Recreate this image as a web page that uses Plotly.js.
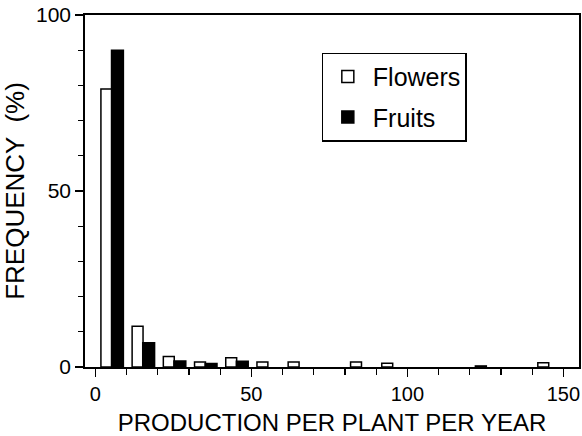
<!DOCTYPE html>
<html>
<head>
<meta charset="utf-8">
<script src="https://cdn.plot.ly/plotly-3.0.1.min.js"></script>
<style>html,body{margin:0;padding:0;background:#fff;}#chart{width:582px;height:436px;}</style>
</head>
<body>
<div id="chart"></div>
<script>
// Bin start of each production class (width 10)
var binStart = [0, 10, 20, 30, 40, 50, 60, 70, 80, 90, 100, 110, 120, 130, 140];
var flowers  = [79, 11.6, 3.0, 1.4, 2.6, 1.4, 1.4, 0, 1.4, 1.1, 0, 0, 0.3, 0, 1.2];
var fruits   = [90, 6.9, 1.7, 1.0, 1.6, 0, 0, 0, 0, 0, 0, 0, 0, 0, 0];
var xTicks = [0, 50, 100, 150];
var yTicks = [0, 50, 100];

var FONT = 'Liberation Sans, Arial, Helvetica, sans-serif';
function lw(arr) { return arr.map(function (v) { return v > 0 ? 1.5 : 0; }); }

var traces = [
  {type: 'bar', name: 'Flowers', x: binStart, y: flowers, legendgroup: 'a',
   offset: 1.8, width: 3.5,
   marker: {color: '#ffffff', line: {color: '#000000', width: lw(flowers)}}},
  {type: 'bar', name: 'Fruits', x: binStart, y: fruits, legendgroup: 'b',
   offset: 5.2, width: 3.8,
   marker: {color: '#000000', line: {color: '#000000', width: lw(fruits)}}}
];

var layout = {
  width: 582, height: 436,
  margin: {l: 85, r: 3, t: 15, b: 69},
  paper_bgcolor: '#fff', plot_bgcolor: '#fff',
  barmode: 'overlay',
  showlegend: true,
  legend: {x: 0.479, y: 0.893, xanchor: 'left', yanchor: 'top',
           bordercolor: '#000', borderwidth: 1.2, bgcolor: '#fff',
           font: {family: FONT, size: 25, color: '#000'},
           itemwidth: 40,
           traceorder: 'grouped', tracegroupgap: 5},
  font: {family: FONT, color: '#000'},
  xaxis: {range: [-3.3, 155], tickvals: xTicks, ticktext: xTicks.map(String),
          ticks: 'outside', ticklen: 8, tickwidth: 1.5, tickcolor: '#000',
          ticklabeloverflow: 'allow',
          minor: {dtick: 10, tick0: 0, ticks: 'outside', ticklen: 6, tickwidth: 1.2, tickcolor: '#000'},
          showline: true, linecolor: '#000', linewidth: 1.8, mirror: true,
          showgrid: false, zeroline: false,
          tickfont: {family: FONT, size: 20, color: '#000'},
          title: {text: 'PRODUCTION PER PLANT PER YEAR', font: {family: FONT, size: 24, color: '#000'}, standoff: 14}},
  yaxis: {range: [0, 100], tickvals: yTicks, ticktext: yTicks.map(String),
          ticks: 'outside', ticklen: 8, tickwidth: 1.5, tickcolor: '#000',
          minor: {dtick: 10, tick0: 0, ticks: 'outside', ticklen: 5, tickwidth: 1.2, tickcolor: '#000'},
          showline: true, linecolor: '#000', linewidth: 1.8, mirror: true,
          showgrid: false, zeroline: false,
          tickfont: {family: FONT, size: 21, color: '#000'},
          title: {text: 'FREQUENCY  (%)', font: {family: FONT, size: 26, color: '#000'}, standoff: 4}}
};

Plotly.newPlot('chart', traces, layout, {displayModeBar: false, staticPlot: true});
</script>
</body>
</html>
